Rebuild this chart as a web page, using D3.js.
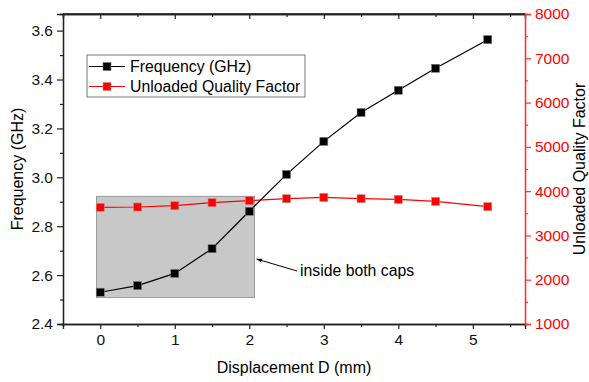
<!DOCTYPE html>
<html>
<head>
<meta charset="utf-8">
<script src="https://cdn.jsdelivr.net/npm/d3@7"></script>
<style>
  body { margin: 0; background: #fff; }
  text { font-family: "Liberation Sans", Arial, sans-serif; }
</style>
</head>
<body>
<script>
// data
const displacement = [0, 0.5, 1, 1.5, 2, 2.5, 3, 3.5, 4, 4.5, 5.2];
const frequency = [2.530, 2.557, 2.607, 2.708, 2.861, 3.012, 3.147, 3.265, 3.356, 3.446, 3.563];
const qFactor = [3635, 3642, 3671, 3739, 3784, 3829, 3860, 3829, 3815, 3770, 3649];
const xTicks = [0, 1, 2, 3, 4, 5];
const yTicks = [2.4, 2.6, 2.8, 3.0, 3.2, 3.4, 3.6];
const qTicks = [1000, 2000, 3000, 4000, 5000, 6000, 7000, 8000];
const capsBox = {x0: -0.05, x1: 2.07, y0: 2.508, y1: 2.922};

const margin = {top: 14, right: 64, bottom: 58, left: 63};
const width = 589, height = 382;
const plotW = width - margin.left - margin.right;
const plotH = height - margin.top - margin.bottom;

let svg = d3.select("body").append("svg")
    .attr("width", width)
    .attr("height", height);

let g = svg.append("g")
    .attr("transform", "translate(" + margin.left + "," + margin.top + ")");

let xScale = d3.scaleLinear().domain([-0.5, 5.7]).range([0, plotW]);
let yScale = d3.scaleLinear().domain([2.4, 3.668]).range([plotH, 0]);
let qScale = d3.scaleLinear().domain([1000, 8000]).range([plotH, 0]);

// shaded region "inside both caps"
g.append("rect")
    .attr("x", xScale(capsBox.x0))
    .attr("y", yScale(capsBox.y1))
    .attr("width", xScale(capsBox.x1) - xScale(capsBox.x0))
    .attr("height", yScale(capsBox.y0) - yScale(capsBox.y1))
    .attr("fill", "#c8c8c8")
    .attr("stroke", "#9a9a9a")
    .attr("stroke-width", 1);

// axes
let fmt1 = d3.format(".1f");
g.append("g")
    .attr("transform", "translate(0," + plotH + ")")
    .call(d3.axisBottom(xScale).tickValues(xTicks).tickSize(5).tickPadding(5).tickFormat(d3.format("d")));
g.append("g")
    .attr("transform", "translate(0," + plotH + ")")
    .call(d3.axisBottom(xScale).tickValues(d3.range(-0.5, 5.7, 1)).tickSize(3).tickFormat(""));
g.append("g")
    .call(d3.axisBottom(xScale).tickValues(xTicks).tickSize(5).tickFormat(""));
g.append("g")
    .call(d3.axisBottom(xScale).tickValues(d3.range(-0.5, 5.7, 1)).tickSize(3).tickFormat(""));

g.append("g")
    .call(d3.axisLeft(yScale).tickValues(yTicks).tickSize(6).tickPadding(4).tickFormat(fmt1));
g.append("g")
    .call(d3.axisLeft(yScale).tickValues(d3.range(2.5, 3.66, 0.2)).tickSize(3).tickFormat(""));

g.append("g")
    .attr("class", "q-axis")
    .attr("transform", "translate(" + plotW + ",0)")
    .call(d3.axisRight(qScale).tickValues(qTicks).tickSize(6).tickPadding(4).tickFormat(d3.format("d")));
g.append("g")
    .attr("class", "q-axis")
    .attr("transform", "translate(" + plotW + ",0)")
    .call(d3.axisRight(qScale).tickValues(d3.range(1500, 8000, 1000)).tickSize(3).tickFormat(""));

g.selectAll(".domain").attr("stroke", "#222").attr("stroke-width", 1.3);
g.selectAll(".tick line").attr("stroke", "#222").attr("stroke-width", 1.2);
g.selectAll(".tick text").attr("font-size", 15.5).attr("fill", "#111")
    .style("font-family", "'Liberation Sans', Arial, sans-serif");
g.selectAll(".q-axis .domain, .q-axis .tick line").attr("stroke", "#ff3030");
g.selectAll(".q-axis .tick text").attr("fill", "#ff0000");
// top line
g.append("line").attr("x1", 0).attr("x2", plotW).attr("y1", 0).attr("y2", 0)
    .attr("stroke", "#222").attr("stroke-width", 1.3);

// series lines
let lineF = d3.line().x((d, i) => xScale(displacement[i])).y(d => yScale(d));
let lineQ = d3.line().x((d, i) => xScale(displacement[i])).y(d => qScale(d));

g.append("path").datum(qFactor)
    .attr("d", lineQ).attr("fill", "none").attr("stroke", "#ff0000").attr("stroke-width", 1.2);
g.append("path").datum(frequency)
    .attr("d", lineF).attr("fill", "none").attr("stroke", "#000").attr("stroke-width", 1.2);

const ms = 8;
g.selectAll(".qpt").data(qFactor).enter().append("rect")
    .attr("class", "qpt")
    .attr("x", (d, i) => xScale(displacement[i]) - ms / 2)
    .attr("y", d => qScale(d) - ms / 2)
    .attr("width", ms).attr("height", ms)
    .attr("fill", "#ff0000").attr("stroke", "#cc8888").attr("stroke-width", 0.6);
g.selectAll(".fpt").data(frequency).enter().append("rect")
    .attr("class", "fpt")
    .attr("x", (d, i) => xScale(displacement[i]) - ms / 2)
    .attr("y", d => yScale(d) - ms / 2)
    .attr("width", ms).attr("height", ms)
    .attr("fill", "#000").attr("stroke", "#777").attr("stroke-width", 0.6);

// annotation arrow
svg.append("defs").append("marker")
    .attr("id", "arrow")
    .attr("viewBox", "0 0 10 10")
    .attr("refX", 10).attr("refY", 5)
    .attr("markerWidth", 9).attr("markerHeight", 6)
    .attr("orient", "auto")
    .append("path").attr("d", "M0,1.5 L10,5 L0,8.5 L2.5,5 z").attr("fill", "#000");

g.append("line")
    .attr("x1", 297 - margin.left).attr("y1", 271 - margin.top)
    .attr("x2", xScale(capsBox.x1) + 2).attr("y2", 259 - margin.top)
    .attr("stroke", "#000").attr("stroke-width", 1)
    .attr("marker-end", "url(#arrow)");
g.append("text")
    .attr("x", 300 - margin.left).attr("y", 276 - margin.top)
    .attr("font-size", 15.8)
    .text("inside both caps");

// legend
let legend = svg.append("g");
legend.append("rect")
    .attr("x", 87).attr("y", 55).attr("width", 218).attr("height", 42)
    .attr("fill", "#fff").attr("stroke", "#777").attr("stroke-width", 1);
const legendItems = [
    {label: "Frequency (GHz)", color: "#000", edge: "#777"},
    {label: "Unloaded Quality Factor", color: "#ff0000", edge: "#cc8888"}
];
legendItems.forEach((item, i) => {
    let ly = 66.5 + i * 20;
    legend.append("line").attr("x1", 89).attr("x2", 125).attr("y1", ly).attr("y2", ly)
        .attr("stroke", item.color).attr("stroke-width", 1.2);
    legend.append("rect").attr("x", 107 - ms / 2).attr("y", ly - ms / 2)
        .attr("width", ms).attr("height", ms)
        .attr("fill", item.color).attr("stroke", item.edge).attr("stroke-width", 0.6);
    legend.append("text").attr("x", 130).attr("y", ly + 5.5)
        .attr("font-size", 15.8).text(item.label);
});

// axis titles
svg.append("text")
    .attr("x", margin.left + xScale(2.6)).attr("y", 373)
    .attr("text-anchor", "middle").attr("font-size", 16)
    .text("Displacement D (mm)");
svg.append("text")
    .attr("transform", "translate(23," + (margin.top + plotH / 2) + ") rotate(-90)")
    .attr("text-anchor", "middle").attr("font-size", 16)
    .text("Frequency (GHz)");
svg.append("text")
    .attr("transform", "translate(585," + (margin.top + plotH / 2) + ") rotate(-90)")
    .attr("text-anchor", "middle").attr("font-size", 16)
    .text("Unloaded Quality Factor");
</script>
</body>
</html>
